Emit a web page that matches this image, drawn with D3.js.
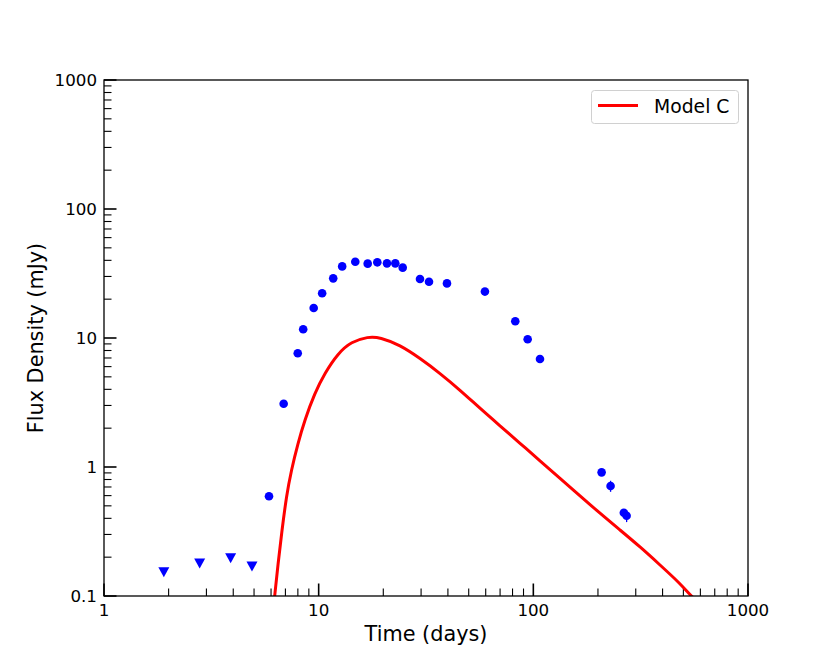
<!DOCTYPE html>
<html>
<head>
<meta charset="utf-8">
<script src="https://cdn.jsdelivr.net/npm/d3@7"></script>
<style>
body{margin:0;background:#fff;}
svg{display:block;font-family:"DejaVu Sans",sans-serif;}
</style>
</head>
<body>
<svg id="chart" width="831" height="670"></svg>
<script>
// Detections (days, mJy)
const detTime = [5.87, 6.87, 7.99, 8.47, 9.48, 10.38, 11.69, 12.87, 14.81, 16.92, 18.76, 20.81, 22.75, 24.63, 29.65, 32.66, 39.6, 59.5, 82.4, 94.1, 107.4, 208, 229, 264, 272];
const detFlux = [0.593, 3.095, 7.62, 11.7, 17.1, 22.2, 29.0, 35.9, 39.0, 37.7, 38.6, 37.9, 37.9, 35.1, 28.7, 27.3, 26.5, 22.9, 13.5, 9.77, 6.88, 0.909, 0.712, 0.442, 0.419];
const detErr  = [0, 0, 0, 0, 0, 0, 0, 0, 0, 0, 0, 0, 0, 0, 0, 0, 0, 0, 0, 0, 0, 0.02, 0.07, 0.03, 0.045];
// Upper limits
const limTime = [1.9, 2.79, 3.89, 4.89];
const limFlux = [0.153, 0.179, 0.196, 0.169];
// Model C curve
const modelTime = [6.17, 6.24, 6.47, 6.75, 7.07, 7.46, 8.01, 8.61, 9.58, 10.67, 12.30, 14.19, 16.98, 19.31, 23.92, 29.65, 36.75, 45.53, 56.42, 69.94, 86.7, 107.4, 133.2, 165.0, 204.5, 253.3, 314.0, 389.1, 482.3, 536.9, 598];
const modelFlux = [0.084, 0.1, 0.179, 0.325, 0.589, 0.948, 1.53, 2.31, 3.73, 5.33, 7.61, 9.36, 10.24, 10.13, 8.83, 6.96, 5.33, 3.95, 2.85, 2.086, 1.527, 1.117, 0.817, 0.598, 0.4375, 0.325, 0.241, 0.174, 0.1254, 0.1018, 0.087];
const xTicks = [1, 10, 100, 1000];
const yTicks = [0.1, 1, 10, 100, 1000];
const xLabel = "Time (days)";
const yLabel = "Flux Density (mJy)";
const legendLabel = "Model C";

const svg = d3.select("#chart");
const L = 104, R = 748, T = 80, B = 596;
const x = d3.scaleLog().domain([1, 1000]).range([L, R]);
const y = d3.scaleLog().domain([0.1, 1000]).range([B, T]);

svg.append("defs").append("clipPath").attr("id", "clip")
  .append("rect").attr("x", L).attr("y", T).attr("width", R - L).attr("height", B - T);

// minor ticks
const xMinor = [], yMinor = [];
for (let d = 1; d < 1000; d *= 10) for (let k = 2; k <= 9; k++) xMinor.push(d * k);
for (let d = 0.1; d < 999; d *= 10) for (let k = 2; k <= 9; k++) yMinor.push(d * k);

const g = svg.append("g");
g.selectAll(".xminor").data(xMinor).enter().append("line")
  .attr("x1", d => x(d)).attr("x2", d => x(d)).attr("y1", B).attr("y2", B - 7.5)
  .attr("stroke", "#000").attr("stroke-width", 1.1);
g.selectAll(".yminor").data(yMinor).enter().append("line")
  .attr("y1", d => y(d)).attr("y2", d => y(d)).attr("x1", L).attr("x2", L + 7.5)
  .attr("stroke", "#000").attr("stroke-width", 1.1);
g.selectAll(".xmajor").data(xTicks).enter().append("line")
  .attr("x1", d => x(d)).attr("x2", d => x(d)).attr("y1", B).attr("y2", B - 12.5)
  .attr("stroke", "#000").attr("stroke-width", 1.6);
g.selectAll(".ymajor").data(yTicks).enter().append("line")
  .attr("y1", d => y(d)).attr("y2", d => y(d)).attr("x1", L).attr("x2", L + 12.5)
  .attr("stroke", "#000").attr("stroke-width", 1.6);

// tick labels
g.selectAll(".xlab").data(xTicks).enter().append("text")
  .attr("x", d => x(d)).attr("y", B + 20).attr("text-anchor", "middle")
  .attr("font-size", 16.7).text(d => d3.format("")(d));
g.selectAll(".ylab").data(yTicks).enter().append("text")
  .attr("x", L - 7).attr("y", d => y(d) + 6).attr("text-anchor", "end")
  .attr("font-size", 16.7).text(d => d3.format("")(d));

// axis labels
svg.append("text").attr("x", (L + R) / 2).attr("y", 641).attr("text-anchor", "middle")
  .attr("font-size", 20.8).text(xLabel);
svg.append("text").attr("transform", `translate(43,${(T + B) / 2}) rotate(-90)`)
  .attr("text-anchor", "middle").attr("font-size", 20.8).text(yLabel);

const plot = svg.append("g").attr("clip-path", "url(#clip)");

// model line
const line = d3.line().x((d, i) => x(modelTime[i])).y((d, i) => y(modelFlux[i])).curve(d3.curveBasis);
plot.append("path").datum(modelFlux).attr("d", line)
  .attr("fill", "none").attr("stroke", "#ff0000").attr("stroke-width", 3);

// error bars
detErr.forEach((e, i) => {
  if (e > 0) {
    plot.append("line")
      .attr("x1", x(detTime[i])).attr("x2", x(detTime[i]))
      .attr("y1", y(detFlux[i] - e)).attr("y2", y(detFlux[i] + e))
      .attr("stroke", "#0000ff").attr("stroke-width", 1.3);
  }
});

// detections
plot.selectAll(".det").data(detFlux).enter().append("circle")
  .attr("cx", (d, i) => x(detTime[i])).attr("cy", d => y(d)).attr("r", 4.3)
  .attr("fill", "#0000ff");

// upper limits (down triangles)
plot.selectAll(".lim").data(limFlux).enter().append("path")
  .attr("d", "M-5.5,-5L5.5,-5L0,5Z")
  .attr("transform", (d, i) => `translate(${x(limTime[i])},${y(d)})`)
  .attr("fill", "#0000ff");

// spines
svg.append("rect").attr("x", L).attr("y", T).attr("width", R - L).attr("height", B - T)
  .attr("fill", "none").attr("stroke", "#000").attr("stroke-width", 1.3);

// legend
const lg = svg.append("g");
lg.append("rect").attr("x", 591.5).attr("y", 90.5).attr("width", 147).attr("height", 33).attr("rx", 3)
  .attr("fill", "#fff").attr("stroke", "#d0d0d0").attr("stroke-width", 1);
lg.append("line").attr("x1", 598).attr("x2", 638).attr("y1", 105.5).attr("y2", 105.5)
  .attr("stroke", "#ff0000").attr("stroke-width", 3);
lg.append("text").attr("x", 654).attr("y", 112.5).attr("font-size", 18.8).text(legendLabel);
</script>
</body>
</html>
